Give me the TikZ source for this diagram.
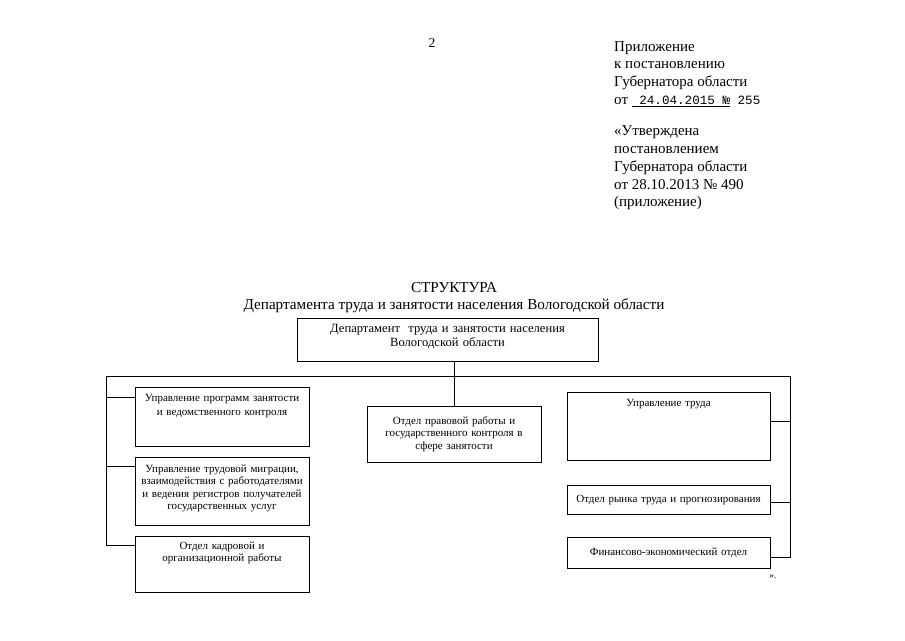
\documentclass[tikz,border=0pt]{standalone}
\usepackage{fontspec}
\setmainfont{Liberation Serif}
\newfontfamily\datefont{Liberation Mono}
\usetikzlibrary{positioning}
\tikzstyle{unit}=[draw, rectangle, line width=0.9pt, align=center, inner sep=3pt, font=\fontsize{11}{12.5}\selectfont]
\tikzstyle{link}=[line width=0.9pt]
\tikzstyle{doc}=[font=\fontsize{15}{17.8}\selectfont, align=left, inner sep=0pt]

\begin{document}
\begin{tikzpicture}[x=1pt, y=-1pt]
  \useasboundingbox (0,0) rectangle (905,640);
  \node[font=\fontsize{13.5}{15}\selectfont] (page) at (432,43) {2};
  \node[doc, anchor=north west] (appx) at (614,41) {Приложение\\к постановлению\\Губернатора области\\от {\datefont\fontsize{12.6}{17.8}\selectfont\underline{\ 24.04.2015 №}~255}};
  \node[doc, below right=19pt and 0pt of appx.south west] (appr) {«Утверждена\\постановлением\\Губернатора области\\от 28.10.2013 № 490\\(приложение)};
  \node[font=\fontsize{15.2}{17}\selectfont, align=center] (title) at (454,298) {СТРУКТУРА\\Департамента труда и занятости населения Вологодской области};

  % head of the department
  \node[unit, text width=295pt, text height=11pt, text depth=26pt, font=\fontsize{12.6}{14}\selectfont] (dept) at (447.5,339.5) {Департамент\ \ труда и занятости населения\\Вологодской области};
  \coordinate (busL) at (106,376);
  \coordinate (busR) at (790,376);

  % left column
  \node[unit, anchor=north, text width=168pt, text height=11pt, text depth=42pt, font=\fontsize{11}{14}\selectfont] (progr) at (222,387) {Управление программ занятости\\и ведомственного контроля};
  \node[unit, text width=168pt, text height=12pt, text depth=50pt, below=10pt of progr] (migr) {Управление трудовой миграции,\\взаимодействия с работодателями\\и ведения регистров получателей\\государственных услуг};
  \node[unit, text width=168pt, text height=10pt, text depth=40pt, below=10pt of migr] (kadr) {Отдел кадровой и\\организационной работы};

  % middle
  \node[unit, text width=168pt, minimum height=56pt] (legal) at (454,434) {Отдел правовой работы и\\государственного контроля в\\сфере занятости};

  % right column
  \node[unit, anchor=north, text width=197pt, text height=11pt, text depth=51pt] (trud) at (668.5,392) {Управление труда};
  \node[unit, text width=197pt, minimum height=29pt, below=24pt of trud] (market) {Отдел рынка труда и прогнозирования};
  \node[unit, text width=197pt, minimum height=31pt, below=22pt of market] (fin) {Финансово-экономический отдел};
  \node[font=\fontsize{9.5}{10}\selectfont] (quote) at (773,577) {».};

  \draw[link] (busL) -- (busR);
  \draw[link] (dept.south -| legal.north) -- (legal.north);
  \draw[link] (busL) |- ([yshift=-10pt]kadr.north west);
  \foreach \n in {progr,migr}
    \draw[link] ([yshift=-10pt]\n.north west) -- ++(-29pt,0);
  \draw[link] (busR) |- ([yshift=-4.5pt]fin.east);
  \draw[link] ([yshift=5pt]trud.east) -- ++(20pt,0);
  \draw[link] ([yshift=-3pt]market.east) -- ++(20pt,0);
\end{tikzpicture}
\end{document}
